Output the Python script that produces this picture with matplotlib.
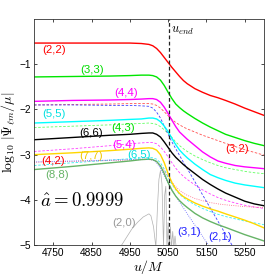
import numpy as np
import matplotlib
matplotlib.use('Agg')
import matplotlib.pyplot as plt

plt.rcParams['font.family'] = ['Liberation Sans', 'DejaVu Sans']
plt.rcParams['mathtext.fontset'] = 'cm'

# retarded time grid shared by the multipole curves
u = [4700, 4800, 4900, 4950, 4980, 5000, 5010, 5020, 5030, 5040, 5050, 5060, 5070,
     5080, 5090, 5100, 5120, 5140, 5160, 5180, 5200, 5225, 5250, 5275, 5300]

# log10 |Psi_lm / mu|
psi_22 = [-0.53, -0.53, -0.53, -0.53, -0.54, -0.56, -0.59, -0.65, -0.74, -0.85, -0.96, -1.07, -1.17,
          -1.27, -1.36, -1.43, -1.54, -1.62, -1.69, -1.74, -1.80, -1.88, -1.97, -2.05, -2.13]
psi_33 = [-1.28, -1.27, -1.26, -1.25, -1.24, -1.24, -1.25, -1.28, -1.35, -1.47, -1.62, -1.76, -1.88,
          -1.96, -2.03, -2.09, -2.20, -2.30, -2.39, -2.47, -2.55, -2.62, -2.69, -2.75, -2.80]
psi_44 = [-1.82, -1.80, -1.79, -1.78, -1.77, -1.76, -1.76, -1.78, -1.84, -1.95, -2.09, -2.24, -2.38,
          -2.50, -2.58, -2.66, -2.80, -2.94, -3.05, -3.14, -3.19, -3.24, -3.27, -3.29, -3.31]
psi_55 = [-2.30, -2.27, -2.24, -2.22, -2.21, -2.19, -2.19, -2.21, -2.27, -2.37, -2.49, -2.64, -2.78,
          -2.90, -2.99, -3.07, -3.21, -3.33, -3.44, -3.51, -3.57, -3.63, -3.67, -3.70, -3.73]
psi_66 = [-2.67, -2.62, -2.57, -2.55, -2.53, -2.52, -2.52, -2.55, -2.61, -2.72, -2.84, -2.96, -3.06,
          -3.14, -3.22, -3.29, -3.42, -3.55, -3.66, -3.76, -3.85, -3.94, -4.03, -4.09, -4.13]
psi_77 = [-3.00, -2.96, -2.91, -2.88, -2.86, -2.85, -2.86, -2.90, -3.00, -3.18, -3.42, -3.62, -3.76,
          -3.86, -3.93, -3.98, -4.07, -4.14, -4.20, -4.25, -4.31, -4.38, -4.45, -4.53, -4.62]
psi_88 = [-3.33, -3.26, -3.18, -3.14, -3.11, -3.10, -3.11, -3.15, -3.25, -3.42, -3.62, -3.79, -3.92,
          -4.02, -4.10, -4.17, -4.30, -4.40, -4.48, -4.55, -4.61, -4.69, -4.77, -4.84, -4.91]
psi_32 = [-1.90, -1.89, -1.88, -1.87, -1.87, -1.87, -1.88, -1.91, -1.97, -2.05, -2.14, -2.22, -2.29,
          -2.34, -2.39, -2.43, -2.50, -2.57, -2.63, -2.69, -2.75, -2.82, -2.89, -2.95, -3.01]
psi_43 = [-2.40, -2.37, -2.34, -2.32, -2.31, -2.30, -2.31, -2.33, -2.38, -2.45, -2.53, -2.62, -2.72,
          -2.80, -2.87, -2.93, -3.03, -3.11, -3.18, -3.24, -3.29, -3.33, -3.37, -3.40, -3.42]
psi_54 = [-2.93, -2.87, -2.80, -2.76, -2.74, -2.73, -2.73, -2.76, -2.83, -2.93, -3.05, -3.18, -3.30,
          -3.40, -3.48, -3.55, -3.67, -3.78, -3.87, -3.95, -4.01, -4.07, -4.12, -4.16, -4.19]
psi_65 = [-3.24, -3.18, -3.12, -3.09, -3.07, -3.06, -3.07, -3.10, -3.18, -3.32, -3.50, -3.66, -3.78,
          -3.88, -3.95, -4.01, -4.11, -4.19, -4.26, -4.32, -4.37, -4.42, -4.47, -4.51, -4.55]
psi_42 = [-3.17, -3.15, -3.13, -3.12, -3.11, -3.11, -3.12, -3.16, -3.24, -3.36, -3.49, -3.61, -3.71,
          -3.79, -3.85, -3.90, -3.97, -4.02, -4.06, -4.09, -4.11, -4.13, -4.15, -4.16, -4.17]
psi_21 = [-1.90, -1.90, -1.91, -1.91, -1.92, -1.93, -1.97, -2.06, -2.19, -2.37, -2.55, -2.72, -2.87,
          -3.02, -3.17, -3.31, -3.60, -3.89, -4.18, -4.47, -4.76, -5.12]
psi_31 = [-3.16, -3.14, -3.12, -3.11, -3.10, -3.10, -3.12, -3.18, -3.30, -3.46, -3.63, -3.78, -3.92,
          -4.05, -4.18, -4.31, -4.56, -4.81, -5.06]

# (2,0) mode: own time samples
u_20 = [4925, 4940, 4955, 4970, 4985, 5000, 5005, 5012, 5018, 5022, 5026, 5030, 5034, 5038, 5041,
        5044, 5047, 5050, 5053, 5056, 5059, 5062, 5065, 5068, 5071]
psi_20 = [-5.05, -4.85, -4.65, -4.50, -4.38, -4.31, -4.35, -4.60, -5.05, -4.20, -3.55, -3.35, -3.65,
          -5.05, -3.90, -3.70, -5.05, -4.50, -5.05, -4.60, -5.05, -4.70, -5.05, -4.80, -5.05]

u_end = 5052

fig = plt.figure(figsize=(2.66, 2.77), dpi=100)
ax = fig.add_axes([0.128, 0.1155, 0.864, 0.8155])

ax.plot(u_20, psi_20, color='#b0b0b0', lw=0.5)
ax.plot(u, psi_32, color='#ff5050', lw=0.6, ls='--', dashes=(3, 2))
ax.plot(u, psi_43, color='#60ff60', lw=0.6, ls='--', dashes=(3, 2))
ax.plot(u, psi_54, color='#ff40ff', lw=0.6, ls='--', dashes=(3, 2))
ax.plot(u, psi_65, color='#30f0f0', lw=0.6, ls='--', dashes=(3, 2))
ax.plot(u[:len(psi_21)], psi_21, color='#4040ff', lw=0.6, ls='--', dashes=(3, 2))
ax.plot(u, psi_42, color='#ff6080', lw=0.6, ls=':')
ax.plot(u[:len(psi_31)], psi_31, color='#6060ff', lw=0.6, ls=':')

ax.plot(u, psi_22, color='#ff0000', lw=1.0)
ax.plot(u, psi_33, color='#00e600', lw=1.0)
ax.plot(u, psi_44, color='#ff00ff', lw=1.0)
ax.plot(u, psi_55, color='#00ffff', lw=1.0)
ax.plot(u, psi_66, color='#000000', lw=1.0)
ax.plot(u, psi_77, color='#ffd700', lw=1.0)
ax.plot(u, psi_88, color='#66b366', lw=1.0)

ax.axvline(u_end, color='#222222', lw=0.9, ls='--', dashes=(3, 2))
ax.text(u_end + 6, -0.27, r'$u_{end}$', fontsize=9, va='center', ha='left')

labels = [('(2,2)', 4751, -0.69, '#ff0000'), ('(3,3)', 4851, -1.13, '#00dd00'),
          ('(4,4)', 4940, -1.64, '#ff00ff'), ('(5,5)', 4752, -2.10, '#00e0e0'),
          ('(6,6)', 4849, -2.52, '#000000'), ('(4,3)', 4932, -2.42, '#00dd00'),
          ('(5,4)', 4936, -2.78, '#ff00ff'), ('(7,7)', 4850, -3.02, '#f0c800'),
          ('(4,2)', 4750, -3.14, '#ff0000'), ('(8,8)', 4761, -3.44, '#66b366'),
          ('(6,5)', 4974, -3.00, '#00e0e0'), ('(3,2)', 5230, -2.87, '#ff0000'),
          ('(2,0)', 4936, -4.52, '#999999'), ('(3,1)', 5105, -4.71, '#2020ff'),
          ('(2,1)', 5186, -4.82, '#2020ff')]
for txt, x, y, c in labels:
    ax.text(x, y, txt, color=c, fontsize=8.2, ha='center', va='center')

ax.text(4716, -4.02, r'$\hat{a} = 0.9999$', fontsize=13.5, ha='left', va='center')

ax.set_xlim(4700, 5300)
ax.set_ylim(-5, 0)
ax.set_xticks([4750, 4850, 4950, 5050, 5150, 5250])
ax.set_yticks([-5, -4, -3, -2, -1])
ax.tick_params(direction='in', length=2.5, width=0.5, labelsize=7.3, top=True, right=True, pad=2)
for s in ax.spines.values():
    s.set_linewidth(0.6)
    s.set_color('#333333')

ax.set_xlabel(r'$u/M$', fontsize=10, labelpad=0)
ax.set_ylabel(r'$\log_{10}\,|\Psi_{\ell m}/\mu|$', fontsize=10, labelpad=2)

fig.savefig('out.png', dpi=100)
